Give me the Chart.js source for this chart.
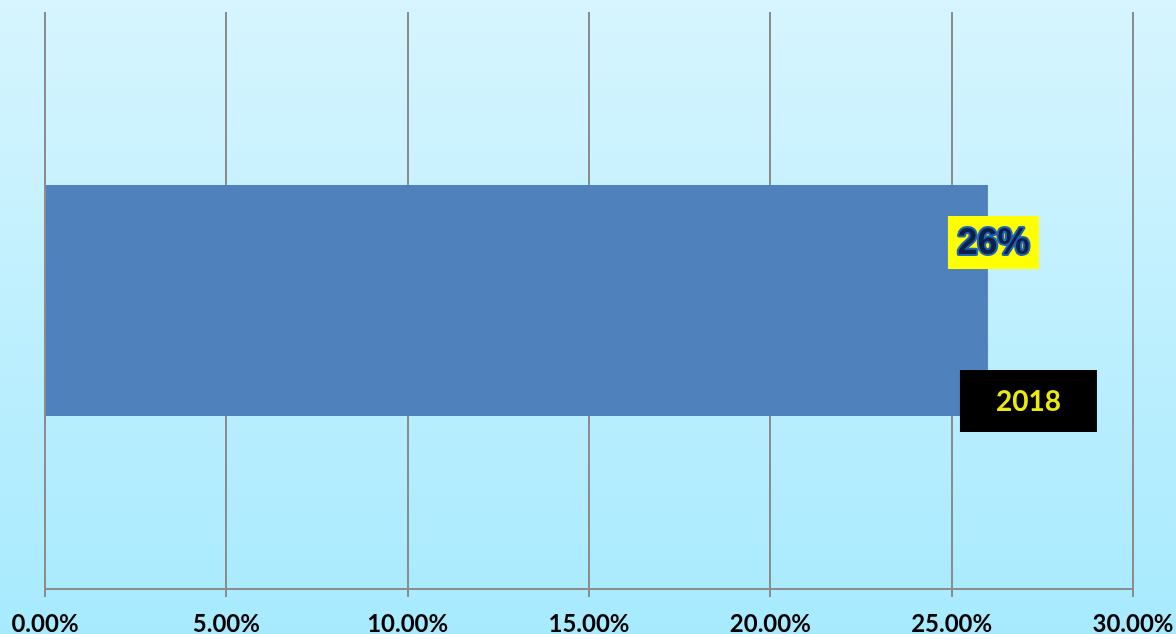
<!DOCTYPE html>
<html>
<head>
<meta charset="utf-8">
<script src="https://cdn.jsdelivr.net/npm/chart.js@4/dist/chart.umd.min.js"></script>
<style>
html,body{margin:0;padding:0;background:#c4f0fe;}
#wrap{width:1176px;height:634px;position:relative;}
</style>
</head>
<body>
<div id="wrap"><canvas id="c" width="1176" height="634"></canvas></div>
<script>
const categories = ['2018'];
const values = [0.26];
const xMin = 0, xMax = 0.30, xStep = 0.05;

const bgPlugin = {
  id: 'bg',
  beforeDraw(chart) {
    const ctx = chart.ctx;
    const g = ctx.createLinearGradient(0, 0, 0, chart.height);
    g.addColorStop(0, '#d6f5fe');
    g.addColorStop(1, '#a7eafe');
    ctx.save();
    ctx.fillStyle = g;
    ctx.fillRect(0, 0, chart.width, chart.height);
    ctx.restore();
  }
};

const labelPlugin = {
  id: 'labels',
  afterDatasetsDraw(chart) {
    const ctx = chart.ctx;
    const meta = chart.getDatasetMeta(0);
    meta.data.forEach((bar, i) => {
      const x = bar.x, y = bar.y;
      const vcx = x + 5.5, vcy = y - 58;
      ctx.save();
      ctx.fillStyle = '#ffff00';
      ctx.fillRect(vcx - 45.5, vcy - 26.5, 91, 53);
      ctx.font = 'bold 36px "Liberation Sans", Arial, sans-serif';
      ctx.textAlign = 'center';
      ctx.textBaseline = 'middle';
      const txt = Math.round(values[i] * 100) + '%';
      ctx.lineJoin = 'round';
      ctx.lineWidth = 4;
      ctx.strokeStyle = '#1e64b4';
      ctx.strokeText(txt, vcx, vcy + 2);
      ctx.fillStyle = '#0b1f4a';
      ctx.fillText(txt, vcx, vcy + 2);
      const ccx = x + 40.5, ccy = y + 100.5;
      ctx.fillStyle = '#000000';
      ctx.fillRect(ccx - 68.5, ccy - 31, 137, 62);
      ctx.font = 'bold 28px Lato, "Open Sans", sans-serif';
      ctx.fillStyle = '#eaea10';
      ctx.fillText(categories[i], ccx, ccy + 1);
      ctx.restore();
    });
  }
};

new Chart(document.getElementById('c'), {
  type: 'bar',
  data: {
    labels: categories,
    datasets: [{
      data: values,
      backgroundColor: '#4f81bd',
      borderWidth: 0,
      barPercentage: 0.4,
      categoryPercentage: 1.0
    }]
  },
  options: {
    indexAxis: 'y',
    responsive: false,
    animation: false,
    layout: { padding: { left: 45, right: 43, top: 12, bottom: 0 } },
    plugins: { legend: { display: false }, tooltip: { enabled: false } },
    scales: {
      y: { display: false },
      x: {
        min: xMin, max: xMax,
        afterFit(scale) { scale.height = 45; scale.paddingLeft = 0; scale.paddingRight = 0; },
        ticks: {
          stepSize: xStep,
          color: '#000000',
          padding: 13,
          maxRotation: 0,
          font: { family: 'Lato, "Open Sans", sans-serif', size: 24, weight: 'bold' },
          callback: v => (v * 100).toFixed(2) + '%'
        },
        grid: { color: '#8c8c8c', lineWidth: 2, tickLength: 8, drawOnChartArea: true },
        border: { color: '#8c8c8c', width: 2 }
      }
    }
  },
  plugins: [bgPlugin, labelPlugin]
});
</script>
</body>
</html>
